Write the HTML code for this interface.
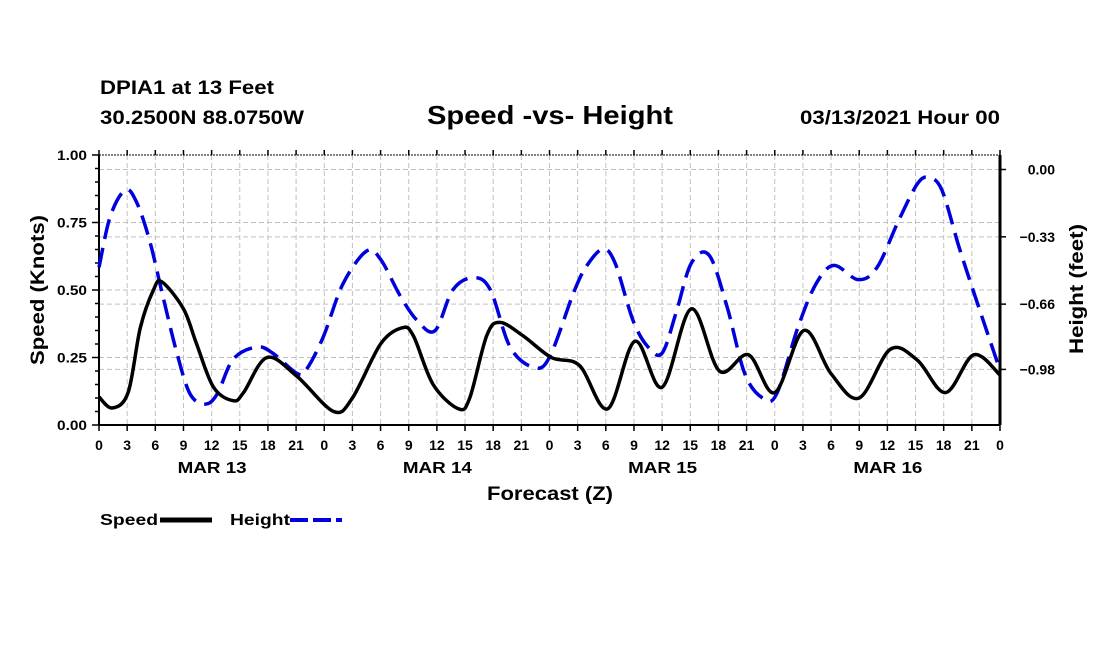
<!DOCTYPE html>
<html><head><meta charset="utf-8"><style>
body{margin:0;background:#fff;}
svg{display:block;font-family:"Liberation Sans",sans-serif;}
</style></head><body>
<svg id="chart" width="1100" height="650" viewBox="0 0 1100 650">
<text x="100" y="94" font-size="19" font-weight="bold" textLength="174" lengthAdjust="spacingAndGlyphs">DPIA1 at 13 Feet</text>
<text x="100" y="124" font-size="19" font-weight="bold" textLength="204" lengthAdjust="spacingAndGlyphs">30.2500N 88.0750W</text>
<text x="427" y="124" font-size="26" font-weight="bold" textLength="246" lengthAdjust="spacingAndGlyphs">Speed -vs- Height</text>
<text x="800" y="124" font-size="19" font-weight="bold" textLength="200" lengthAdjust="spacingAndGlyphs">03/13/2021 Hour 00</text>
<g id="grid"></g>
<g id="axes"></g>
<g id="series"></g>
<text transform="translate(44,365) rotate(-90)" font-size="19" font-weight="bold" textLength="150" lengthAdjust="spacingAndGlyphs">Speed (Knots)</text>
<text transform="translate(1083,354) rotate(-90)" font-size="19" font-weight="bold" textLength="130" lengthAdjust="spacingAndGlyphs">Height (feet)</text>
<text x="487" y="500" font-size="19" font-weight="bold" textLength="126" lengthAdjust="spacingAndGlyphs">Forecast (Z)</text>
<g>
<text x="100" y="525" font-size="16" font-weight="bold" textLength="58" lengthAdjust="spacingAndGlyphs">Speed</text>
<line x1="160" y1="520" x2="212" y2="520" stroke="#000" stroke-width="5"/>
<text x="230" y="525" font-size="16" font-weight="bold" textLength="60" lengthAdjust="spacingAndGlyphs">Height</text>
<line x1="290" y1="520" x2="342" y2="520" stroke="#0000dd" stroke-width="4" stroke-dasharray="18,5"/>
</g>
</svg>
<script>
const speedHours=[0,1.4,3.1,4.4,5.8,6.7,9,10.4,12.2,14.3,15.4,17.9,21.1,25,27,30,32.3,33.5,35.6,38.3,39.5,41.3,42.7,45.2,48.2,51.2,54.2,57.1,60,63.1,66.1,69.2,72,75.1,78,81,84.3,87.2,90.2,93.2,96];
const speedValues=[0.104,0.063,0.12,0.36,0.50,0.53,0.43,0.30,0.14,0.09,0.12,0.25,0.18,0.05,0.10,0.30,0.36,0.33,0.15,0.06,0.10,0.33,0.38,0.33,0.25,0.22,0.06,0.31,0.14,0.43,0.20,0.26,0.12,0.35,0.19,0.10,0.28,0.24,0.12,0.26,0.185];
const heightHours=[0,1.2,2.8,4,5.4,6.8,8.3,9.7,11.3,12.6,14.3,16.8,18.5,21.1,22.1,23.9,26,28.5,30,32.1,33.9,35.8,37.7,39.9,41.7,43.8,46.3,48,50.6,52,53.7,55,56.9,58.5,60,61.5,63.1,65,66.9,68.8,70.7,72.2,74.5,76.4,78.3,80.9,82.9,85.2,87.2,88.4,89.8,91.7,93.7,95.9];
const heightValues=[-0.48,-0.23,-0.10,-0.16,-0.35,-0.62,-0.90,-1.10,-1.15,-1.10,-0.93,-0.87,-0.90,-1.00,-0.98,-0.82,-0.56,-0.40,-0.44,-0.62,-0.74,-0.79,-0.59,-0.53,-0.59,-0.87,-0.97,-0.92,-0.60,-0.47,-0.39,-0.46,-0.74,-0.87,-0.90,-0.70,-0.46,-0.42,-0.67,-1.00,-1.12,-1.10,-0.77,-0.56,-0.47,-0.54,-0.48,-0.25,-0.07,-0.04,-0.10,-0.39,-0.67,-0.97];
const xTickLabels=["0","3","6","9","12","15","18","21"];
const dayLabels=["MAR 13","MAR 14","MAR 15","MAR 16"];
const leftTicks=[0,0.25,0.5,0.75,1.0];
const rightTicks=[0,-0.33,-0.66,-0.98];

const X0=99,X1=1000,YT=155,YB=425;
const xS=h=>X0+(X1-X0)*h/96;
const yL=v=>YB-(YB-YT)*v;
const yR=v=>169.5-204*v;
const NS="http://www.w3.org/2000/svg";
function mk(tag,attrs,parent,txt){const e=document.createElementNS(NS,tag);for(const k in attrs)e.setAttribute(k,attrs[k]);if(txt!==undefined)e.textContent=txt;parent.appendChild(e);return e;}
const grid=document.getElementById('grid'),axes=document.getElementById('axes'),series=document.getElementById('series');
const gs={stroke:"#c0c0c0","stroke-width":1,"stroke-dasharray":"5,3"};
for(let i=1;i<32;i++){const x=xS(i*3);const l=mk('line',Object.assign({x1:x,y1:YT,x2:x,y2:YB},gs),grid);

}
leftTicks.forEach(v=>{if(v>0&&v<1){const y=yL(v);const l=mk('line',Object.assign({x1:X0,y1:y,x2:X1,y2:y},gs),grid);

}});
rightTicks.forEach(v=>{const y=yR(v);const l=mk('line',Object.assign({x1:X0,y1:y,x2:X1,y2:y},gs),grid);

});
mk('line',{x1:X0,y1:YT,x2:X1,y2:YT,stroke:"#000","stroke-width":1,"stroke-dasharray":"2,1"},axes);
mk('line',{x1:X0,y1:YT,x2:X0,y2:YB,stroke:"#000","stroke-width":2},axes);
mk('line',{x1:X0,y1:YB,x2:X1,y2:YB,stroke:"#000","stroke-width":2},axes);
mk('line',{x1:X1,y1:YT,x2:X1,y2:YB,stroke:"#000","stroke-width":3},axes);
for(let i=0;i<=32;i++){const x=xS(i*3);
mk('line',{x1:x,y1:YB,x2:x,y2:YB+6,stroke:"#000","stroke-width":1.5},axes);
mk('line',{x1:x,y1:YT,x2:x,y2:YT-5,stroke:"#000","stroke-width":1.5},axes);
const t=mk('text',{x:x,y:450,"font-size":14,"font-weight":"bold","text-anchor":"middle"},axes,i==32?"0":xTickLabels[i%8]);

}
dayLabels.forEach((d,i)=>{const t=mk('text',{x:xS(i*24+12)-34,y:473,"font-size":16,"font-weight":"bold",textLength:69,lengthAdjust:"spacingAndGlyphs"},axes,d);

});
for(let i=0;i<=20;i++){const y=yL(i*0.05);const big=i%5==0;
mk('line',{x1:X0,y1:y,x2:X0-(big?7:4),y2:y,stroke:"#000","stroke-width":1.5},axes);}
leftTicks.forEach(v=>{const t=mk('text',{x:87,y:yL(v)+5,"font-size":14,"font-weight":"bold","text-anchor":"end",textLength:30,lengthAdjust:"spacingAndGlyphs"},axes,v.toFixed(2));

});
rightTicks.forEach(v=>{const y=yR(v);mk('line',{x1:X1,y1:y,x2:X1+6,y2:y,stroke:"#000","stroke-width":1.5},axes);
const t=mk('text',{x:1055,y:y+5,"font-size":14,"font-weight":"bold","text-anchor":"end"},axes,v===0?"0.00":"−"+Math.abs(v).toFixed(2));

});
function smooth(pts){let d="M"+pts[0][0]+","+pts[0][1];for(let i=0;i<pts.length-1;i++){const p0=pts[i-1]||pts[i],p1=pts[i],p2=pts[i+1],p3=pts[i+2]||p2;
d+=" C"+(p1[0]+(p2[0]-p0[0])/6)+","+(p1[1]+(p2[1]-p0[1])/6)+" "+(p2[0]-(p3[0]-p1[0])/6)+","+(p2[1]-(p3[1]-p1[1])/6)+" "+p2[0]+","+p2[1];}return d;}
const hp=mk('path',{d:smooth(heightHours.map((h,i)=>[xS(h),yR(heightValues[i])])),fill:"none",stroke:"#0000dd","stroke-width":3.5,"stroke-dasharray":"20,9"},series);


const sp=mk('path',{d:smooth(speedHours.map((h,i)=>[xS(h),yL(speedValues[i])])),fill:"none",stroke:"#000","stroke-width":3.5},series);


</script>
</body></html>
